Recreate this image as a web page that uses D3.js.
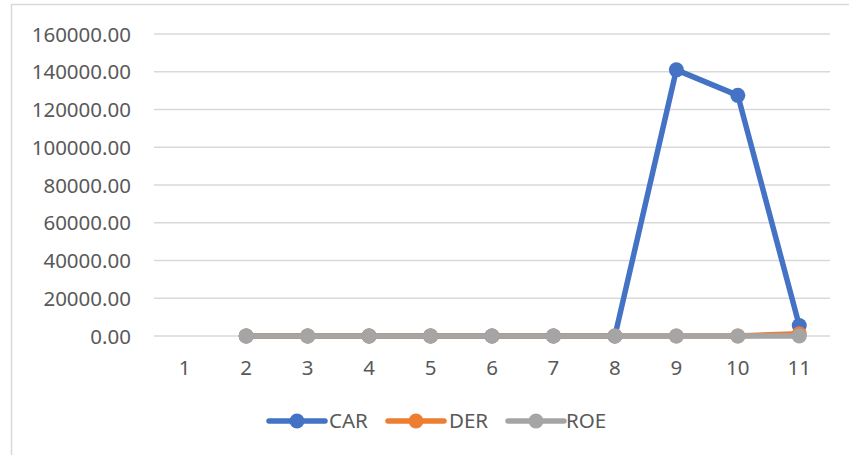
<!DOCTYPE html>
<html>
<head>
<meta charset="utf-8">
<script src="https://cdn.jsdelivr.net/npm/d3@7"></script>
<style>
  html, body { margin: 0; padding: 0; background: #ffffff; }
  svg { display: block; }
  text { font-family: "Noto Sans", "Open Sans", sans-serif; fill: #595959; }
</style>
</head>
<body>
<svg id="chart" width="849" height="455"></svg>
<script>
// Periods on the horizontal axis
const categories = ["1", "2", "3", "4", "5", "6", "7", "8", "9", "10", "11"];

// Ratio series (null = no value for that period)
const carValues = [null, 0, 0, 0, 0, 0, 0, 0, 141000, 127500, 5500];
const derValues = [null, 0, 0, 0, 0, 0, 0, 0, 0, 0, 1200];
const roeValues = [null, 0, 0, 0, 0, 0, 0, 0, 0, 0, 0];

// Y-axis ticks
const yTicks = [0, 20000, 40000, 60000, 80000, 100000, 120000, 140000, 160000];

const seriesNames = ["CAR", "DER", "ROE"];
const seriesColors = ["#4472C4", "#ED7D31", "#A5A5A5"];
const seriesValues = [carValues, derValues, roeValues];

const svg = d3.select("#chart");

// Outer chart frame
svg.append("rect")
  .attr("x", 11.5).attr("y", 4.5)
  .attr("width", 860).attr("height", 470)
  .attr("fill", "none")
  .attr("stroke", "#D9D9D9")
  .attr("stroke-width", 1.5);

const plot = { left: 154, right: 830, top: 34, bottom: 336 };

const x = d3.scaleBand()
  .domain(categories)
  .range([plot.left, plot.right])
  .paddingInner(0)
  .paddingOuter(0);

const y = d3.scaleLinear()
  .domain([0, 160000])
  .range([plot.bottom, plot.top]);

const cx = c => x(c) + x.bandwidth() / 2;

// Horizontal gridlines
svg.append("g")
  .selectAll("line")
  .data(yTicks)
  .join("line")
  .attr("x1", plot.left).attr("x2", plot.right)
  .attr("y1", d => y(d)).attr("y2", d => y(d))
  .attr("stroke", "#D9D9D9")
  .attr("stroke-width", 1.5);

// Y axis labels
const yAxis = d3.axisLeft(y)
  .tickValues(yTicks)
  .tickSize(0)
  .tickPadding(0)
  .tickFormat(d => d3.format(".2f")(d));

const yG = svg.append("g")
  .attr("transform", `translate(131,0)`)
  .call(yAxis);
yG.select(".domain").remove();
yG.selectAll("text")
  .attr("font-size", 20.5)
  .attr("dy", "0.35em")
  .style("font-family", '"Noto Sans", sans-serif')
  .attr("fill", "#595959");

// X axis labels
const xAxis = d3.axisBottom(x).tickSize(0).tickPadding(0);
const xG = svg.append("g")
  .attr("transform", `translate(0,${plot.bottom})`)
  .call(xAxis);
xG.select(".domain").remove();
xG.selectAll("text")
  .attr("y", 39)
  .attr("dy", 0)
  .attr("font-size", 20.5)
  .style("font-family", '"Noto Sans", sans-serif')
  .attr("fill", "#595959");

// Series lines and markers
const line = d3.line()
  .defined(d => d.v !== null)
  .x(d => cx(d.c))
  .y(d => y(d.v));

seriesValues.forEach((vals, i) => {
  const pts = categories.map((c, j) => ({ c, v: vals[j] }));
  const g = svg.append("g");
  g.append("path")
    .datum(pts)
    .attr("d", line)
    .attr("fill", "none")
    .attr("stroke", seriesColors[i])
    .attr("stroke-width", 5.5)
    .attr("stroke-linejoin", "round")
    .attr("stroke-linecap", "round");
  g.selectAll("circle")
    .data(pts.filter(d => d.v !== null))
    .join("circle")
    .attr("cx", d => cx(d.c))
    .attr("cy", d => y(d.v))
    .attr("r", 7.5)
    .attr("fill", seriesColors[i]);
});

// Legend
const legendItems = [
  { x0: 269, tx: 329 },
  { x0: 388, tx: 449 },
  { x0: 508, tx: 566 }
];
const legendY = 421;
const legend = svg.append("g");
seriesNames.forEach((name, i) => {
  const it = legendItems[i];
  legend.append("line")
    .attr("x1", it.x0).attr("x2", it.x0 + 56)
    .attr("y1", legendY).attr("y2", legendY)
    .attr("stroke", seriesColors[i])
    .attr("stroke-width", 5.5)
    .attr("stroke-linecap", "round");
  legend.append("circle")
    .attr("cx", it.x0 + 28).attr("cy", legendY)
    .attr("r", 7.5)
    .attr("fill", seriesColors[i]);
  legend.append("text")
    .attr("x", it.tx).attr("y", legendY)
    .attr("dy", "0.35em")
    .attr("font-size", 20.5)
    .text(name);
});
</script>
</body>
</html>
